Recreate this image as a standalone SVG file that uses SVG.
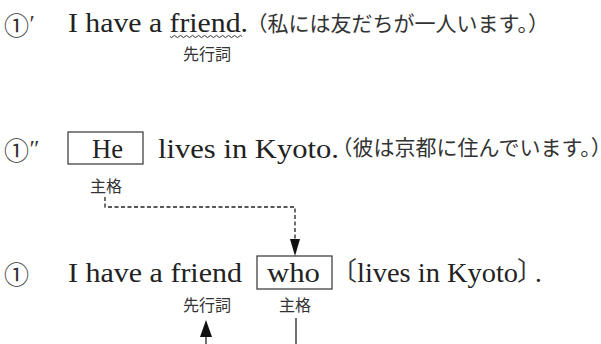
<svg xmlns="http://www.w3.org/2000/svg" width="601" height="344" viewBox="0 0 601 344">
<style>
.en{font-family:"Liberation Serif","Times New Roman",serif;font-size:27px;fill:#222}
.jp{font-family:"Noto Sans CJK JP",sans-serif;font-size:21px;fill:#333}
.lab{font-family:"Noto Sans CJK JP",sans-serif;font-size:16px;fill:#333}
.num{font-family:"Noto Sans CJK JP",sans-serif;font-size:25px;fill:#333}
.pr{font-family:"Liberation Serif",serif;font-size:24px;fill:#333}
.half{font-feature-settings:"halt" 1}
.box{fill:none;stroke:#333;stroke-width:1.2}
.dash{fill:none;stroke:#222;stroke-width:1.3;stroke-dasharray:4 2.5}
.solid{fill:none;stroke:#222;stroke-width:1.3}
.head{fill:#111}
</style>

<g id="line1">
<text class="num" x="4" y="35">①</text>
<text class="pr" x="29.5" y="31">′</text>
<text class="en" x="68" y="32" textLength="180" lengthAdjust="spacingAndGlyphs">I have a friend.</text>
<path d="M170,36.5 q1.5,2.2 3,0 t3,0 t3,0 t3,0 t3,0 t3,0 t3,0 t3,0 t3,0 t3,0 t3,0 t3,0 t3,0 t3,0 t3,0 t3,0 t3,0 t3,0 t3,0 t3,0 t3,0 t3,0 t3,0 t3,0" fill="none" stroke="#333" stroke-width="1"/>
<text class="jp" x="246.5" y="31">（私には友だちが一人います。<tspan class="half">）</tspan></text>
<text class="lab" x="207" y="60" text-anchor="middle">先行詞</text>
</g>

<g id="line2">
<text class="num" x="4" y="160">①</text>
<text class="pr" x="29.5" y="156">″</text>
<g id="he-box">
<rect class="box" x="68" y="132" width="75" height="32"/>
<text class="en" x="92" y="158" textLength="31" lengthAdjust="spacingAndGlyphs">He</text>
</g>
<text class="en" x="158" y="158" textLength="181" lengthAdjust="spacingAndGlyphs">lives in Kyoto.</text>
<text class="jp" x="331.5" y="155">（彼は京都に住んでいます。<tspan class="half">）</tspan></text>
<text class="lab" x="106" y="192" text-anchor="middle">主格</text>
</g>

<g id="line3">
<text class="num" x="4" y="284">①</text>
<text class="en" x="68" y="282" textLength="174" lengthAdjust="spacingAndGlyphs">I have a friend</text>
<g id="who-box">
<rect class="box" x="257" y="256" width="75" height="33"/>
<text class="en" x="267" y="282" textLength="53" lengthAdjust="spacingAndGlyphs">who</text>
</g>
<text x="331" y="282"><tspan class="jp" style="font-size:26px" y="280">〔</tspan><tspan class="en" x="357" y="282" textLength="161" lengthAdjust="spacingAndGlyphs">lives in Kyoto</tspan><tspan class="jp half" style="font-size:26px" x="517" y="280">〕</tspan><tspan class="en" x="535" y="282">.</tspan></text>
<text class="lab" x="207" y="311" text-anchor="middle">先行詞</text>
<text class="lab" x="295" y="311" text-anchor="middle">主格</text>
</g>

<g id="connectors">
<path class="dash" d="M105,197 V207 H295 V242"/>
<polygon class="head" points="290,239 300,239 295,256"/>
<path class="solid" d="M296,318 V344"/>
<path class="solid" d="M206,344 V334"/>
<polygon class="head" points="200,337 212,337 206,320"/>
</g>
</svg>
